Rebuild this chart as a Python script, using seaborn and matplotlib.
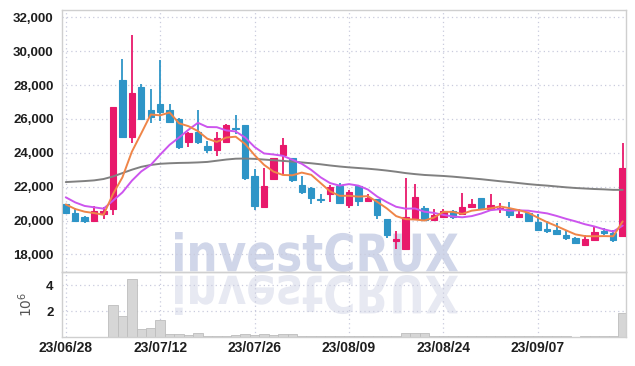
import numpy as np
import matplotlib
matplotlib.use('Agg')
import matplotlib.pyplot as plt
import seaborn as sns
from matplotlib.textpath import TextPath
from matplotlib.patches import PathPatch
from matplotlib.font_manager import FontProperties
from matplotlib.transforms import Affine2D, IdentityTransform

# trading days (yy/mm/dd)
dates = ['23/06/28', '23/06/29', '23/06/30', '23/07/03', '23/07/04', '23/07/05', '23/07/06', '23/07/07',
         '23/07/10', '23/07/11', '23/07/12', '23/07/13', '23/07/14', '23/07/17', '23/07/18', '23/07/19',
         '23/07/20', '23/07/21', '23/07/24', '23/07/25', '23/07/26', '23/07/27', '23/07/28', '23/07/31',
         '23/08/01', '23/08/02', '23/08/03', '23/08/04', '23/08/07', '23/08/08', '23/08/09', '23/08/10',
         '23/08/11', '23/08/14', '23/08/16', '23/08/17', '23/08/18', '23/08/21', '23/08/22', '23/08/23',
         '23/08/24', '23/08/25', '23/08/28', '23/08/29', '23/08/30', '23/08/31', '23/09/01', '23/09/04',
         '23/09/05', '23/09/06', '23/09/07', '23/09/08', '23/09/11', '23/09/12', '23/09/13', '23/09/14',
         '23/09/15', '23/09/18', '23/09/19', '23/09/20']

opens = [20950, 20430, 20190, 19990, 20400, 20700, 28280, 24950, 27880, 26530,
         26860, 26500, 26020, 24620, 25210, 24420, 24150, 24640, 25480, 25640,
         22600, 20800, 22430, 23840, 23670, 22070, 21940, 21290, 21560, 22030,
         20940, 22030, 21170, 21250, 20070, 18780, 18300, 20110, 20720, 20030,
         20230, 20580, 20360, 20820, 21350, 20660, 20660, 20660, 20190, 20420,
         19920, 19500, 19430, 19130, 18990, 18560, 18850, 19390, 19290, 19090]
highs = [20980, 20750, 20270, 20850, 20800, 26700, 29520, 30940, 28080, 27750,
         29490, 26900, 26050, 25200, 26530, 24700, 25230, 25700, 26230, 25650,
         23020, 23100, 23700, 24880, 23720, 22620, 21950, 21540, 22070, 22230,
         21800, 22080, 21540, 21260, 20100, 19380, 22530, 22170, 20860, 20660,
         20700, 20600, 21600, 21290, 21350, 21580, 21050, 21110, 20660, 20440,
         20380, 19960, 19880, 19390, 19000, 19130, 19680, 19560, 19450, 24570]
lows = [20400, 19980, 19850, 19980, 20100, 20320, 24950, 24580, 26000, 25780,
        25880, 25780, 24230, 24350, 24520, 23990, 23800, 24640, 25100, 22380,
        20620, 20760, 22420, 22660, 22300, 21540, 20990, 21050, 21090, 21000,
        20760, 20860, 21160, 20070, 18990, 18340, 18280, 20080, 19990, 19980,
        20200, 20110, 20340, 20760, 20680, 20640, 20460, 20170, 20150, 19910,
        19440, 19250, 19180, 18830, 18670, 18550, 18840, 19130, 18730, 19080]
closes = [20420, 20000, 19980, 20560, 20580, 26700, 24950, 27530, 26010, 26110,
          26430, 25820, 24330, 25170, 24660, 24150, 24880, 25640, 25420, 22500,
          20860, 22010, 23670, 24430, 22370, 21680, 21350, 21210, 22000, 21050,
          21680, 21130, 21350, 20310, 19130, 18890, 20230, 21370, 20030, 20340,
          20560, 20230, 20800, 20970, 20700, 20900, 20760, 20310, 20365, 19970,
          19450, 19390, 19190, 18950, 18680, 18890, 19350, 19270, 18850, 23090]
volumes = [30000, 20000, 20000, 30000, 30000, 2500000, 1650000, 4500000, 600000, 680000,
           1280000, 220000, 220000, 120000, 280000, 80000, 60000, 100000, 120000, 220000,
           150000, 200000, 180000, 220000, 200000, 70000, 60000, 40000, 80000, 70000,
           60000, 40000, 50000, 60000, 90000, 80000, 300000, 300000, 280000, 60000,
           50000, 40000, 70000, 50000, 60000, 50000, 40000, 50000, 40000, 40000,
           50000, 40000, 40000, 40000, 30000, 40000, 60000, 40000, 40000, 1850000]

# moving averages as drawn
ma5 = [20950, 20680, 20520, 20440, 20340, 21560, 22550, 24060, 25150, 26260,
       26210, 26380, 25740, 25570, 25280, 24830, 24640, 24900, 24950, 24520,
       23860, 23290, 22890, 22690, 22670, 22830, 22700, 22210, 21720, 21460,
       21460, 21410, 21440, 21100, 20720, 20260, 20080, 20060, 20000, 20170,
       20510, 20510, 20390, 20580, 20650, 20720, 20830, 20730, 20610, 20460,
       20170, 19900, 19670, 19420, 19180, 19080, 19070, 19080, 19070, 19950]
ma10 = [21370, 21070, 20860, 20780, 20700, 21170, 21660, 22350, 22900, 23280,
        23890, 24470, 24900, 25360, 25770, 25520, 25510, 25320, 25260, 24900,
        24340, 23960, 23900, 23820, 23590, 23350, 22990, 22550, 22210, 22060,
        22150, 22060, 21830, 21410, 21090, 20810, 20700, 20710, 20520, 20450,
        20330, 20240, 20190, 20260, 20410, 20610, 20670, 20580, 20600, 20580,
        20500, 20420, 20270, 20100, 19950, 19780, 19650, 19480, 19350, 19700]
ma_long = [22270, 22300, 22330, 22370, 22450, 22600, 22800, 23000, 23170, 23280,
           23350, 23380, 23400, 23410, 23430, 23460, 23530, 23600, 23650, 23660,
           23640, 23600, 23560, 23520, 23480, 23430, 23380, 23320, 23250, 23190,
           23140, 23100, 23060, 23010, 22950, 22880, 22800, 22740, 22690, 22660,
           22630, 22590, 22540, 22490, 22440, 22380, 22320, 22270, 22210, 22150,
           22100, 22060, 22010, 21960, 21920, 21890, 21860, 21840, 21810, 21810]

tick_idx = [0, 10, 20, 30, 40, 50]
price_ticks = [18000, 20000, 22000, 24000, 26000, 28000, 30000, 32000]
vol_ticks = [2000000, 4000000]

RED = '#E8196B'
BLUE = '#2E95C7'
GRID = '#C9CBDD'

sns.set_theme(style='white')
plt.rcParams['font.family'] = ['Liberation Sans', 'DejaVu Sans']

fig = plt.figure(figsize=(6.35, 3.66), dpi=100)
fig.patch.set_facecolor('white')
L, R = 62 / 635, 626 / 635
ax = fig.add_axes([L, 1 - 272 / 366, R - L, 262 / 366])
axv = fig.add_axes([L, 1 - 337 / 366, R - L, 65 / 366], sharex=ax)

# watermark with reflection
fp = FontProperties(family='DejaVu Sans', weight='bold')
tp = TextPath((0, 0), 'investCRUX', size=100, prop=fp)
bb = tp.get_extents()
sx, sy = 283 / bb.width, 40 / bb.height
main_tr = Affine2D().translate(-bb.x0, -bb.y0).scale(sx, sy).translate(175, 94)
refl_tr = Affine2D().translate(-bb.x0, -bb.y0).scale(sx, -sy).translate(175, 91)
fig.add_artist(PathPatch(main_tr.transform_path(tp), facecolor='#D0D6E9', edgecolor='none',
                         transform=IdentityTransform(), zorder=-1))
fig.add_artist(PathPatch(refl_tr.transform_path(tp), facecolor='#E7E9F2', edgecolor='none',
                         transform=IdentityTransform(), zorder=-1))

idx = np.arange(len(closes))
o = np.array(opens)
c = np.array(closes)
cols = np.where(c >= o, RED, BLUE)

ax.vlines(idx, lows, highs, colors=cols, linewidth=1.3, zorder=2)
ax.bar(idx, np.abs(c - o), bottom=np.minimum(o, c), width=0.68, color=cols,
       edgecolor=cols, linewidth=0.8, zorder=3)

sns.lineplot(x=idx, y=ma_long, color='#808080', linewidth=1.4, ax=ax, zorder=4)
sns.lineplot(x=idx, y=ma10, color='#CC55EE', linewidth=1.4, ax=ax, zorder=5)
sns.lineplot(x=idx, y=ma5, color='#EF8548', linewidth=1.4, ax=ax, zorder=6)

axv.bar(idx, volumes, width=1.0, color='#D6D6D6', edgecolor='#BDBDBD', linewidth=0.6, zorder=2)

for a in (ax, axv):
    a.set_facecolor('none')
    a.grid(True, linestyle=(0, (1, 2.5)), color=GRID, linewidth=0.9)
    a.set_axisbelow(True)
    for s in a.spines.values():
        s.set_color('#CFCFCF')
        s.set_linewidth(1.0)
    a.tick_params(length=0, pad=6, labelsize=9.5, colors='#1E1E1E')

ax.set_xlim(-0.4, 59.35)
ax.set_ylim(16960, 32430)
ax.set_yticks(price_ticks)
ax.set_yticklabels([f'{v:,}' for v in price_ticks], fontweight='bold')
ax.set_xticks(tick_idx)
ax.tick_params(labelbottom=False)

axv.set_ylim(0, 5.0e6)
axv.set_yticks(vol_ticks)
axv.set_yticklabels([str(v // 1000000) for v in vol_ticks], fontweight='bold')
axv.set_xticks(tick_idx)
axv.set_xticklabels([dates[i] for i in tick_idx], fontsize=10, fontweight='bold')
axv.tick_params(axis='x', pad=3)
axv.set_ylabel(r'$10^6$', fontsize=10, color='#555555', labelpad=8)

plt.savefig('out.png', dpi=100)
plt.close()
